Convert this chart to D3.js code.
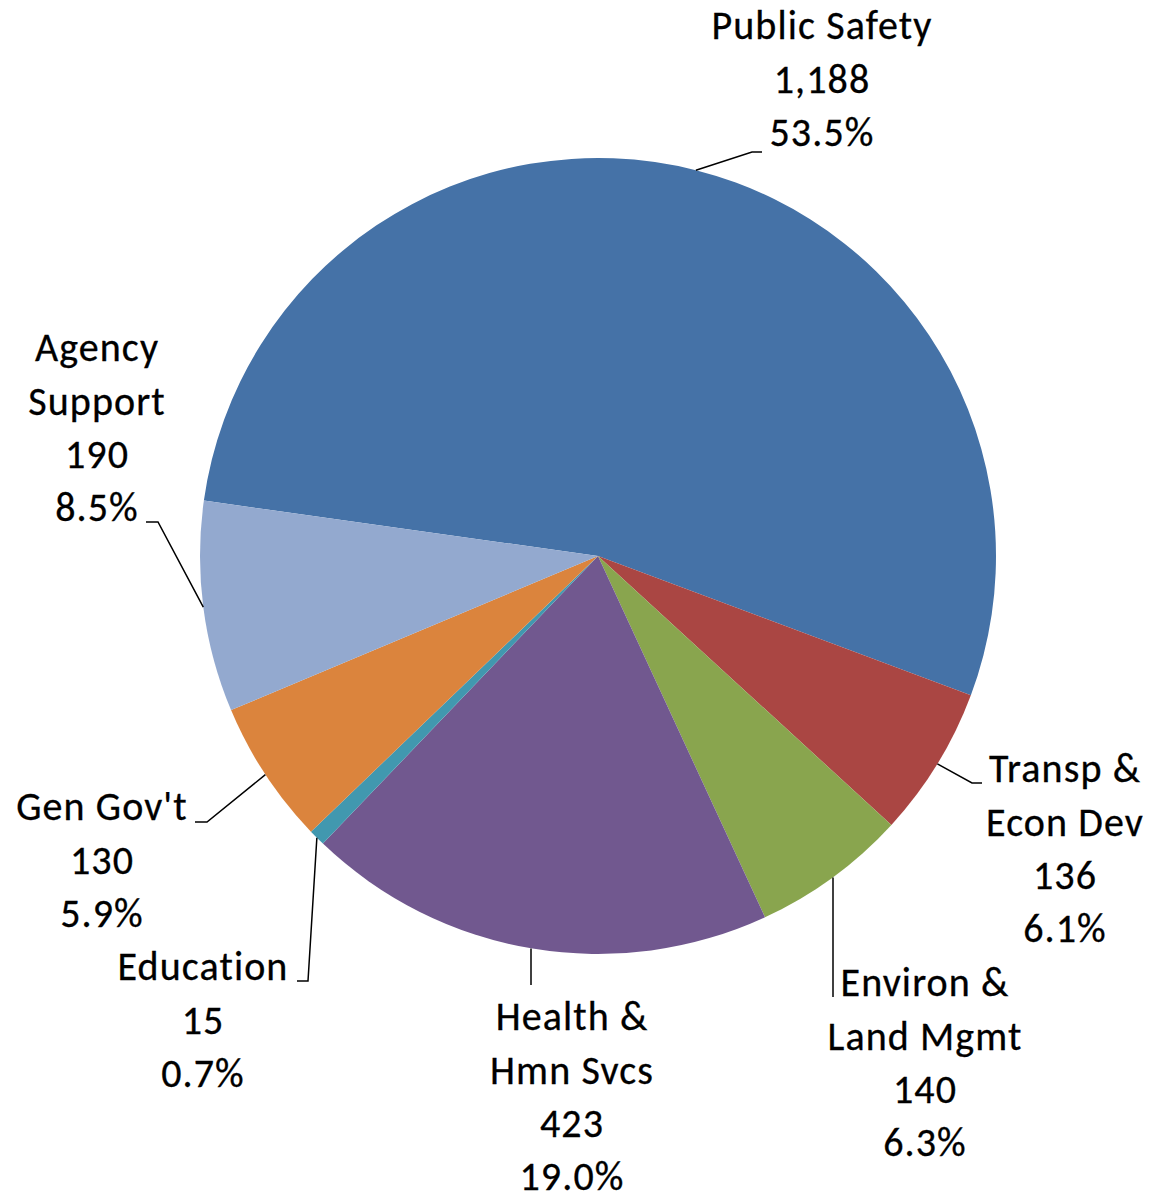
<!DOCTYPE html>
<html>
<head>
<meta charset="utf-8">
<script src="https://cdn.jsdelivr.net/npm/d3@7"></script>
<style>
  html, body { margin: 0; padding: 0; background: #fff; }
  svg { display: block; }
  text { font-family: Carlito, Calibri, Lato, sans-serif; font-size: 40px; letter-spacing: 1.1px; fill: #000; stroke: #000; stroke-width: 0.3px; }
</style>
</head>
<body>
<svg id="chart" width="1152" height="1199"></svg>
<script>
// Spending by function (values in millions)
const categories = ["Public Safety", "Transp & Econ Dev", "Environ & Land Mgmt", "Health & Hmn Svcs", "Education", "Gen Gov't", "Agency Support"];
const values = [1188, 136, 140, 423, 15, 130, 190];
const percentLabels = ["53.5%", "6.1%", "6.3%", "19.0%", "0.7%", "5.9%", "8.5%"];
const labelLines = [
  ["Public Safety"],
  ["Transp &", "Econ Dev"],
  ["Environ &", "Land Mgmt"],
  ["Health &", "Hmn Svcs"],
  ["Education"],
  ["Gen Gov't"],
  ["Agency", "Support"]
];
const colors = ["#4572A7", "#AA4643", "#89A54E", "#71588F", "#4198AF", "#DB843D", "#93A9CF"];

// Label placement: text centre x, first-line middle y, leader elbow and end points
const labelLayout = [
  { x: 822, y: 26,  elbow: [752, 152], end: [762, 152] },
  { x: 1065, y: 769, elbow: [972, 783], end: [982, 783] },
  { x: 925, y: 983, elbow: [833, 878], end: [833, 997] },
  { x: 572, y: 1017, elbow: [531, 960], end: [531, 985] },
  { x: 203, y: 967, elbow: [308, 981], end: [297, 981] },
  { x: 102, y: 807, elbow: [207, 822], end: [195, 822] },
  { x: 97,  y: 348, elbow: [158, 522], end: [146, 522] }
];

const cx = 598, cy = 556, radius = 398, lineHeight = 53.3;
const startDeg = -82;

const svg = d3.select("#chart");
const g = svg.append("g").attr("transform", `translate(${cx},${cy})`);

const pie = d3.pie().sort(null).value(d => d)
  .startAngle(startDeg * Math.PI / 180)
  .endAngle((startDeg + 360) * Math.PI / 180);
const arcs = pie(values);
const arc = d3.arc().innerRadius(0).outerRadius(radius);
const edgeArc = d3.arc().innerRadius(radius).outerRadius(radius);

g.selectAll("path.slice")
  .data(arcs)
  .join("path")
  .attr("class", "slice")
  .attr("d", arc)
  .attr("fill", (d, i) => colors[i]);

const fmt = d3.format(",");

// Leader lines from the slice rim to each label
svg.selectAll("polyline.leader")
  .data(arcs)
  .join("polyline")
  .attr("class", "leader")
  .attr("fill", "none")
  .attr("stroke", "#000")
  .attr("stroke-width", 1.5)
  .attr("points", (d, i) => {
    const [ex, ey] = edgeArc.centroid(d);
    const L = labelLayout[i];
    const start = i === 3 || i === 2 ? [L.elbow[0], cy + ey] : [cx + ex, cy + ey];
    return [start, L.elbow, L.end].map(p => p.join(",")).join(" ");
  });

// Data labels: category, value, percent
const labels = svg.selectAll("text.lbl")
  .data(arcs)
  .join("text")
  .attr("class", "lbl")
  .attr("text-anchor", "middle");

labels.each(function (d, i) {
  const L = labelLayout[i];
  const lines = labelLines[i].concat([fmt(values[i]), percentLabels[i]]);
  d3.select(this).selectAll("tspan")
    .data(lines)
    .join("tspan")
    .attr("x", L.x)
    .attr("y", (t, k) => L.y + k * lineHeight)
    .attr("dy", "0.33em")
    .text(t => t);
});
</script>
</body>
</html>
